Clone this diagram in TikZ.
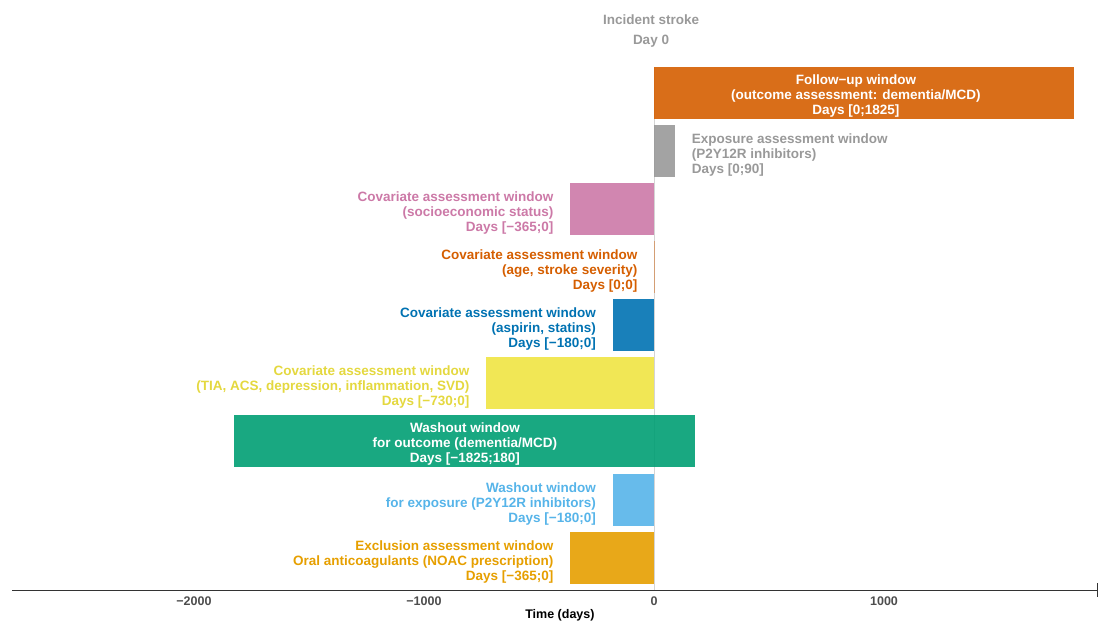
\documentclass[tikz,border=0pt]{standalone}
\usepackage{fontspec}
\setmainfont{Liberation Sans}
\usetikzlibrary{arrows.meta,positioning}

\definecolor{okvermil}{HTML}{D55E00}
\definecolor{okgrey}{HTML}{999999}
\definecolor{okpink}{HTML}{CC79A7}
\definecolor{okblue}{HTML}{0072B2}
\definecolor{okyellow}{HTML}{F0E442}
\definecolor{okgreen}{HTML}{009E73}
\definecolor{oksky}{HTML}{56B4E9}
\definecolor{okorange}{HTML}{E69F00}
\definecolor{zeroline}{HTML}{D4D4D4}
\definecolor{axisgrey}{HTML}{333333}
\definecolor{ticktext}{HTML}{4D4D4D}

\tikzset{
  winbar/.style={fill=#1, fill opacity=0.9},
  winlabel/.style={font=\bfseries\fontsize{13.5}{14.7}\selectfont, align=right, inner sep=0pt, yshift=-4pt, text=#1},
  inlabel/.style={font=\bfseries\fontsize{13.5}{14.7}\selectfont, align=center, inner sep=0pt, yshift=-3pt, text=white},
  ticklabel/.style={font=\bfseries\fontsize{12.5}{14}\selectfont, inner sep=0pt, text=ticktext},
  headlabel/.style={font=\bfseries\fontsize{13.5}{15}\selectfont, inner sep=0pt, text=okgrey}
}

\begin{document}
\begin{tikzpicture}[x=0.23pt, y=-1pt, node distance=16.5pt]
   \useasboundingbox (-2843.5,0) rectangle (1939.1,623);
   % day 0 reference line
   \coordinate (ztop) at (0,67);
   \coordinate (zbot) at (0,590);
   \draw[zeroline, line width=0.7pt] (ztop) -- (zbot);

   % windows, one row each
   \fill[winbar=okvermil] (0,67) rectangle (1825,119);
   \fill[winbar=okgrey] (0,125) rectangle (90,177);
   \fill[winbar=okpink] (-365,183) rectangle (0,235);
   \draw[okvermil, draw opacity=0.45, line width=1pt] (0,241) -- (0,293);
   \fill[winbar=okblue] (-180,299) rectangle (0,351);
   \fill[winbar=okyellow] (-730,357) rectangle (0,409);
   \fill[winbar=okgreen] (-1825,415) rectangle (180,467);
   \fill[winbar=oksky] (-180,474) rectangle (0,526);
   \fill[winbar=okorange] (-365,532) rectangle (0,584);

   \coordinate (expo) at (90,151);
   \coordinate (ses) at (-365,209);
   \coordinate (age) at (0,267);
   \coordinate (asa) at (-180,325);
   \coordinate (tia) at (-730,383);
   \coordinate (wexp) at (-180,500);
   \coordinate (excl) at (-365,558);

   \node[headlabel] (stroke) at (-13,19.5) {Incident stroke};
   \node[headlabel] (day0) at (-13,41.5) {Day 0};

   \node[inlabel] (fup) at (878,93) {Follow\textminus up window\\(outcome assessment: dementia/MCD)\\Days [0;1825]};
   \node[winlabel=okgrey, align=left, right=17pt of expo] (expolab) {Exposure assessment window\\(P2Y12R inhibitors)\\Days [0;90]};
   \node[winlabel=okpink, left=of ses] (seslab) {Covariate assessment window\\(socioeconomic status)\\Days [\textminus365;0]};
   \node[winlabel=okvermil, left=of age] (agelab) {Covariate assessment window\\(age, stroke severity)\\Days [0;0]};
   \node[winlabel=okblue, left=of asa] (asalab) {Covariate assessment window\\(aspirin, statins)\\Days [\textminus180;0]};
   \node[winlabel=okyellow!95!black, left=of tia] (tialab) {Covariate assessment window\\(TIA, ACS, depression, inflammation, SVD)\\Days [\textminus730;0]};
   \node[inlabel] (wout) at (-822,441) {Washout window\\for outcome (dementia/MCD)\\Days [\textminus1825;180]};
   \node[winlabel=oksky, left=of wexp] (wexplab) {Washout window\\for exposure (P2Y12R inhibitors)\\Days [\textminus180;0]};
   \node[winlabel=okorange, left=of excl] (excllab) {Exclusion assessment window\\Oral anticoagulants (NOAC prescription)\\Days [\textminus365;0]};

   % time axis
   \coordinate (xl) at (-2791,590);
   \coordinate (xr) at (1930,590);
   \draw[axisgrey, line width=1pt, -{Bar[width=14pt, line width=1pt]}] (xl) -- (xr);
   \foreach \t/\lab in {-2000/\textminus2000, -1000/\textminus1000, 0/0, 1000/1000}
      \node[ticklabel] (tick\t) at (\t,601.5) {\lab};
   \node[ticklabel, text=black] (xtitle) at (-409,615.5) {Time (days)};
\end{tikzpicture}
\end{document}
